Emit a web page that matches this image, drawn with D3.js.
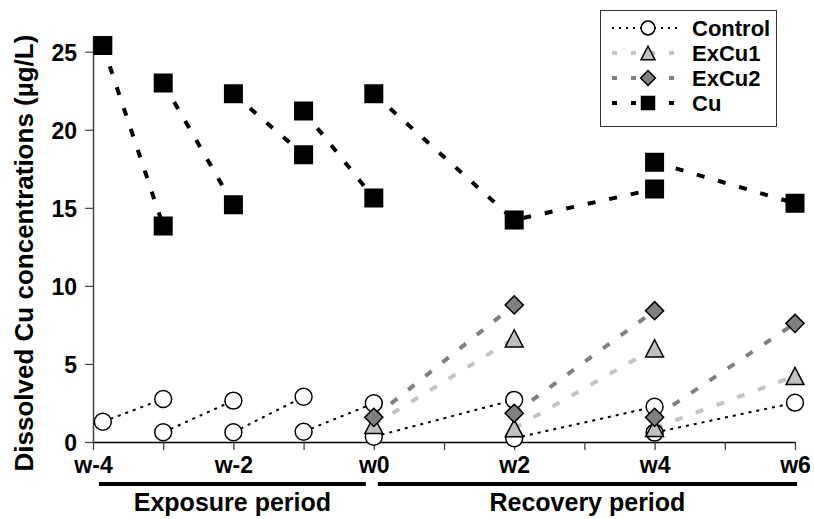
<!DOCTYPE html>
<html>
<head>
<meta charset="utf-8">
<script src="https://cdn.jsdelivr.net/npm/d3@7"></script>
<style>
  body { margin: 0; background: #fff; }
  text { font-family: Arial, "Liberation Sans", sans-serif; font-weight: bold; fill: #000; }
</style>
</head>
<body>
<svg width="814" height="519"></svg>
<script>
// ticks
const weeks = d3.range(-4, 7);
const weekLabels = { "-4": "w-4", "-2": "w-2", "0": "w0", "2": "w2", "4": "w4", "6": "w6" };
const yTicks = [0, 5, 10, 15, 20, 25];

// data: each inner array is one drawn line, points are [week, µg/L]
const control = [
  [[-3.86, 1.3], [-3, 2.75]],
  [[-3, 0.62], [-2, 2.65]],
  [[-2, 0.62], [-1, 2.9]],
  [[-1, 0.66], [0, 2.48]],
  [[0, 0.34], [2, 2.7]],
  [[2, 0.24], [4, 2.26]],
  [[4, 0.6], [6, 2.52]]
];
const exCu1 = [
  [[0, 1.1], [2, 6.64]],
  [[2, 0.88], [4, 6.0]],
  [[4, 0.9], [6, 4.23]]
];
const exCu2 = [
  [[0, 1.58], [2, 8.78]],
  [[2, 1.84], [4, 8.41]],
  [[4, 1.58], [6, 7.6]]
];
const cu = [
  [[-3.86, 25.4], [-3, 13.84]],
  [[-3, 23.0], [-2, 15.2]],
  [[-2, 22.3], [-1, 18.4]],
  [[-1, 21.2], [0, 15.63]],
  [[0, 22.3], [2, 14.22], [4, 16.2]],
  [[4, 17.92], [6, 15.29]]
];

const periods = [
  { label: "Exposure period", from: -4, to: 0 },
  { label: "Recovery period", from: 0, to: 6 }
];

// custom marker shapes
const rhombus = { draw(ctx, size) { const r = Math.sqrt(size / 2);
  ctx.moveTo(0, -r); ctx.lineTo(r, 0); ctx.lineTo(0, r); ctx.lineTo(-r, 0); ctx.closePath(); } };
const tri = { draw(ctx, size) { const s = Math.sqrt(size);
  ctx.moveTo(0, -s * 0.48); ctx.lineTo(s / 2, s * 0.48); ctx.lineTo(-s / 2, s * 0.48); ctx.closePath(); } };

const series = [
  { name: "Control", data: control, line: "#000", width: 2, dash: "3,5", shape: d3.symbolCircle, size: 225, legSize: 150, fill: "#fff" },
  { name: "ExCu1", data: exCu1, line: "#c4c4c4", width: 4, dash: "8,14", shape: tri, size: 320, legSize: 200, fill: "#c0c0c0" },
  { name: "ExCu2", data: exCu2, line: "#808080", width: 4, dash: "8,14", shape: rhombus, size: 165, legSize: 110, fill: "#808080" },
  { name: "Cu", data: cu, line: "#000", width: 4, dash: "8,14", shape: d3.symbolSquare, size: 306, legSize: 169, fill: "#000" }
];

const svg = d3.select("svg");
const x = d3.scaleLinear().domain([-4, 6]).range([93, 795]);
const y = d3.scaleLinear().domain([0, 26]).range([442, 36.1]);

// axes
const xAxis = svg.append("g").attr("transform", `translate(0,${y(0)})`)
  .call(d3.axisBottom(x).tickValues(weeks).tickSize(8).tickSizeOuter(0).tickFormat(d => weekLabels[d] || ""));
xAxis.select(".domain").attr("stroke", "#000").attr("stroke-width", 1.5);
xAxis.selectAll(".tick line").attr("stroke", "#333").attr("stroke-width", 1.2);
xAxis.selectAll(".tick text").attr("font-size", 23).attr("dy", 0).attr("y", 31)
  .style("font-family", "Arial, 'Liberation Sans', sans-serif").style("font-weight", "bold");

const yAxis = svg.append("g").attr("transform", `translate(${x(-4)},0)`)
  .call(d3.axisLeft(y).tickValues(yTicks).tickSize(8).tickSizeOuter(0));
yAxis.select(".domain").attr("stroke", "#444").attr("stroke-width", 1.5);
yAxis.selectAll(".tick line").attr("stroke", "#444").attr("stroke-width", 1.2);
yAxis.selectAll(".tick text").attr("font-size", 23).attr("x", -16).attr("dy", "0.37em")
  .style("font-family", "Arial, 'Liberation Sans', sans-serif").style("font-weight", "bold");

svg.append("text")
  .attr("transform", `translate(33,${(y(26) + 470) / 2}) rotate(-90)`)
  .attr("text-anchor", "middle").attr("font-size", 26)
  .text("Dissolved Cu concentrations (µg/L)");

// period bars
const pb = svg.append("g");
const barIns = [[6, -8], [4, 2]];
periods.forEach((p, i) => {
  const x0 = x(p.from) + barIns[i][0], x1 = x(p.to) + barIns[i][1];
  pb.append("line").attr("x1", x0).attr("x2", x1).attr("y1", 484).attr("y2", 484)
    .attr("stroke", "#000").attr("stroke-width", 4);
  pb.append("text").attr("x", (x0 + x1) / 2).attr("y", 511).attr("text-anchor", "middle")
    .attr("font-size", 25).text(p.label);
});

// lines then markers
const line = d3.line().x(d => x(d[0])).y(d => y(d[1]));
const plot = svg.append("g");
series.forEach(s => {
  plot.append("g").selectAll("path").data(s.data).join("path")
    .attr("d", line).attr("fill", "none")
    .attr("stroke", s.line).attr("stroke-width", s.width).attr("stroke-dasharray", s.dash);
});
series.forEach(s => {
  plot.append("g").selectAll("path").data(s.data.flat()).join("path")
    .attr("transform", d => `translate(${x(d[0])},${y(d[1])})`)
    .attr("d", d3.symbol(s.shape, s.size))
    .attr("fill", s.fill).attr("stroke", "#000").attr("stroke-width", 1.5);
});

// legend
const lg = svg.append("g");
lg.append("rect").attr("x", 600.5).attr("y", 10.5).attr("width", 176).attr("height", 116)
  .attr("fill", "#fff").attr("stroke", "#333").attr("stroke-width", 1);
series.forEach((s, i) => {
  const cy = 28 + i * 25;
  lg.append("line").attr("x1", 612).attr("x2", 682).attr("y1", cy).attr("y2", cy)
    .attr("stroke", s.line).attr("stroke-width", s.width).attr("stroke-dasharray", s.name === "Control" ? "2,5" : "5,14");
  lg.append("path").attr("transform", `translate(648,${cy})`)
    .attr("d", d3.symbol(s.shape, s.legSize))
    .attr("fill", s.fill).attr("stroke", "#000").attr("stroke-width", 1.5);
  lg.append("text").attr("x", 692).attr("y", cy + 7.5).attr("font-size", 22).text(s.name);
});
</script>
</body>
</html>
